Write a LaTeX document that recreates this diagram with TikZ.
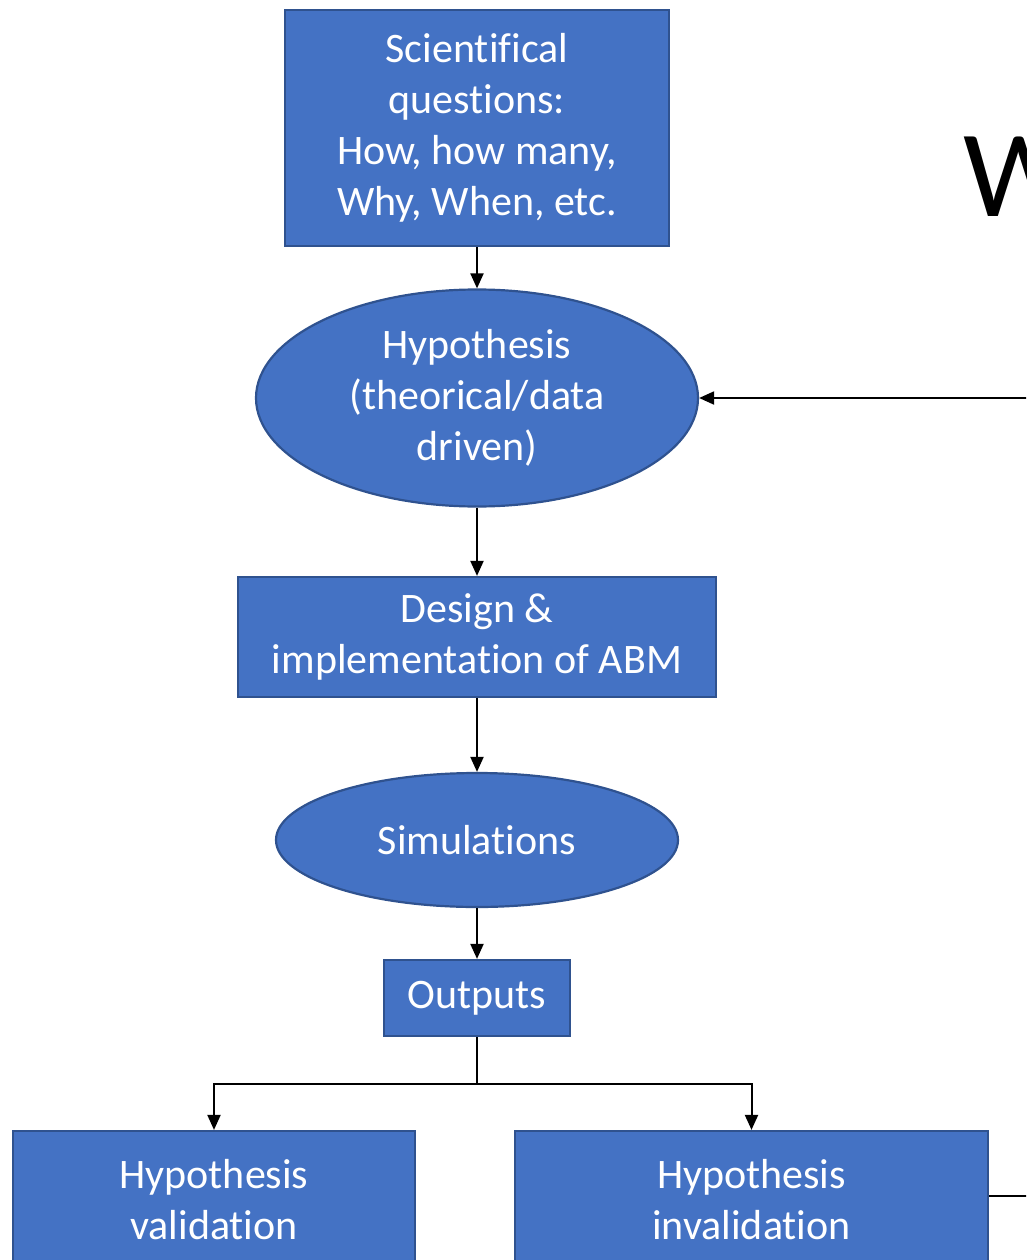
\documentclass[tikz,border=0pt]{standalone}
\usepackage{fontspec}
\setmainfont{Carlito}[RawFeature={-liga;-clig;-dlig;-calt}]
\usetikzlibrary{shapes.geometric,arrows.meta}
\definecolor{boxblue}{HTML}{4472C4}
\definecolor{boxedge}{HTML}{2F528F}
\tikzset{
  stepnode/.style={draw=boxedge,line width=2.2pt,fill=boxblue,text=white,align=center,
    inner sep=0pt,font=\fontsize{42}{51}\selectfont},
  boxnode/.style={stepnode,rectangle},
  ovalnode/.style={stepnode,ellipse},
  flow/.style={line width=2pt,-{Triangle[length=15pt,width=13pt]}}
}

\begin{document}
\begin{tikzpicture}[x=1pt,y=-1pt]
      \clip (0,0) rectangle (1026,1260);
      \node[boxnode,minimum width=384pt,minimum height=236pt] (questions) at (477,128)
        {Scientifical\\questions:\\How, how many,\\Why, When, etc.};
      \node[ovalnode,minimum width=442pt,minimum height=217pt] (hypothesis) at (477,398)
        {Hypothesis\\(theorical/data\\driven)};
      \node[boxnode,minimum width=478pt,minimum height=120pt] (design) at (477,637)
        {Design \&\\implementation of ABM};
      \node[ovalnode,minimum width=402pt,minimum height=134pt] (simulations) at (477,840)
        {Simulations};
      \node[boxnode,minimum width=186pt,minimum height=76pt] (outputs) at (477,998)
        {Outputs};
      \node[boxnode,minimum width=402pt,minimum height=138pt] (valid) at (214,1200)
        {Hypothesis\\validation};
      \node[boxnode,minimum width=473pt,minimum height=138pt] (invalid) at (751.5,1200)
        {Hypothesis\\invalidation};
      \node[anchor=base west,inner sep=0pt,font=\fontsize{124}{130}\selectfont] (title) at (963,216) {W};
      \coordinate (back) at (1032,398);
      \coordinate (loop) at (1032,1196);
      \begin{scope}[flow]
        \draw (questions) to (hypothesis);
        \draw (hypothesis) to (design);
        \draw (design) to (simulations);
        \draw (simulations) to (outputs);
        \draw (outputs.south) -- ++(0,47) -| (valid.north);
        \draw (outputs.south) -- ++(0,47) -| (invalid.north);
        \draw (back) to (hypothesis.east);
      \end{scope}
      \draw[line width=2pt] (invalid.east |- loop) -- (loop);
    \end{tikzpicture}
\end{document}
